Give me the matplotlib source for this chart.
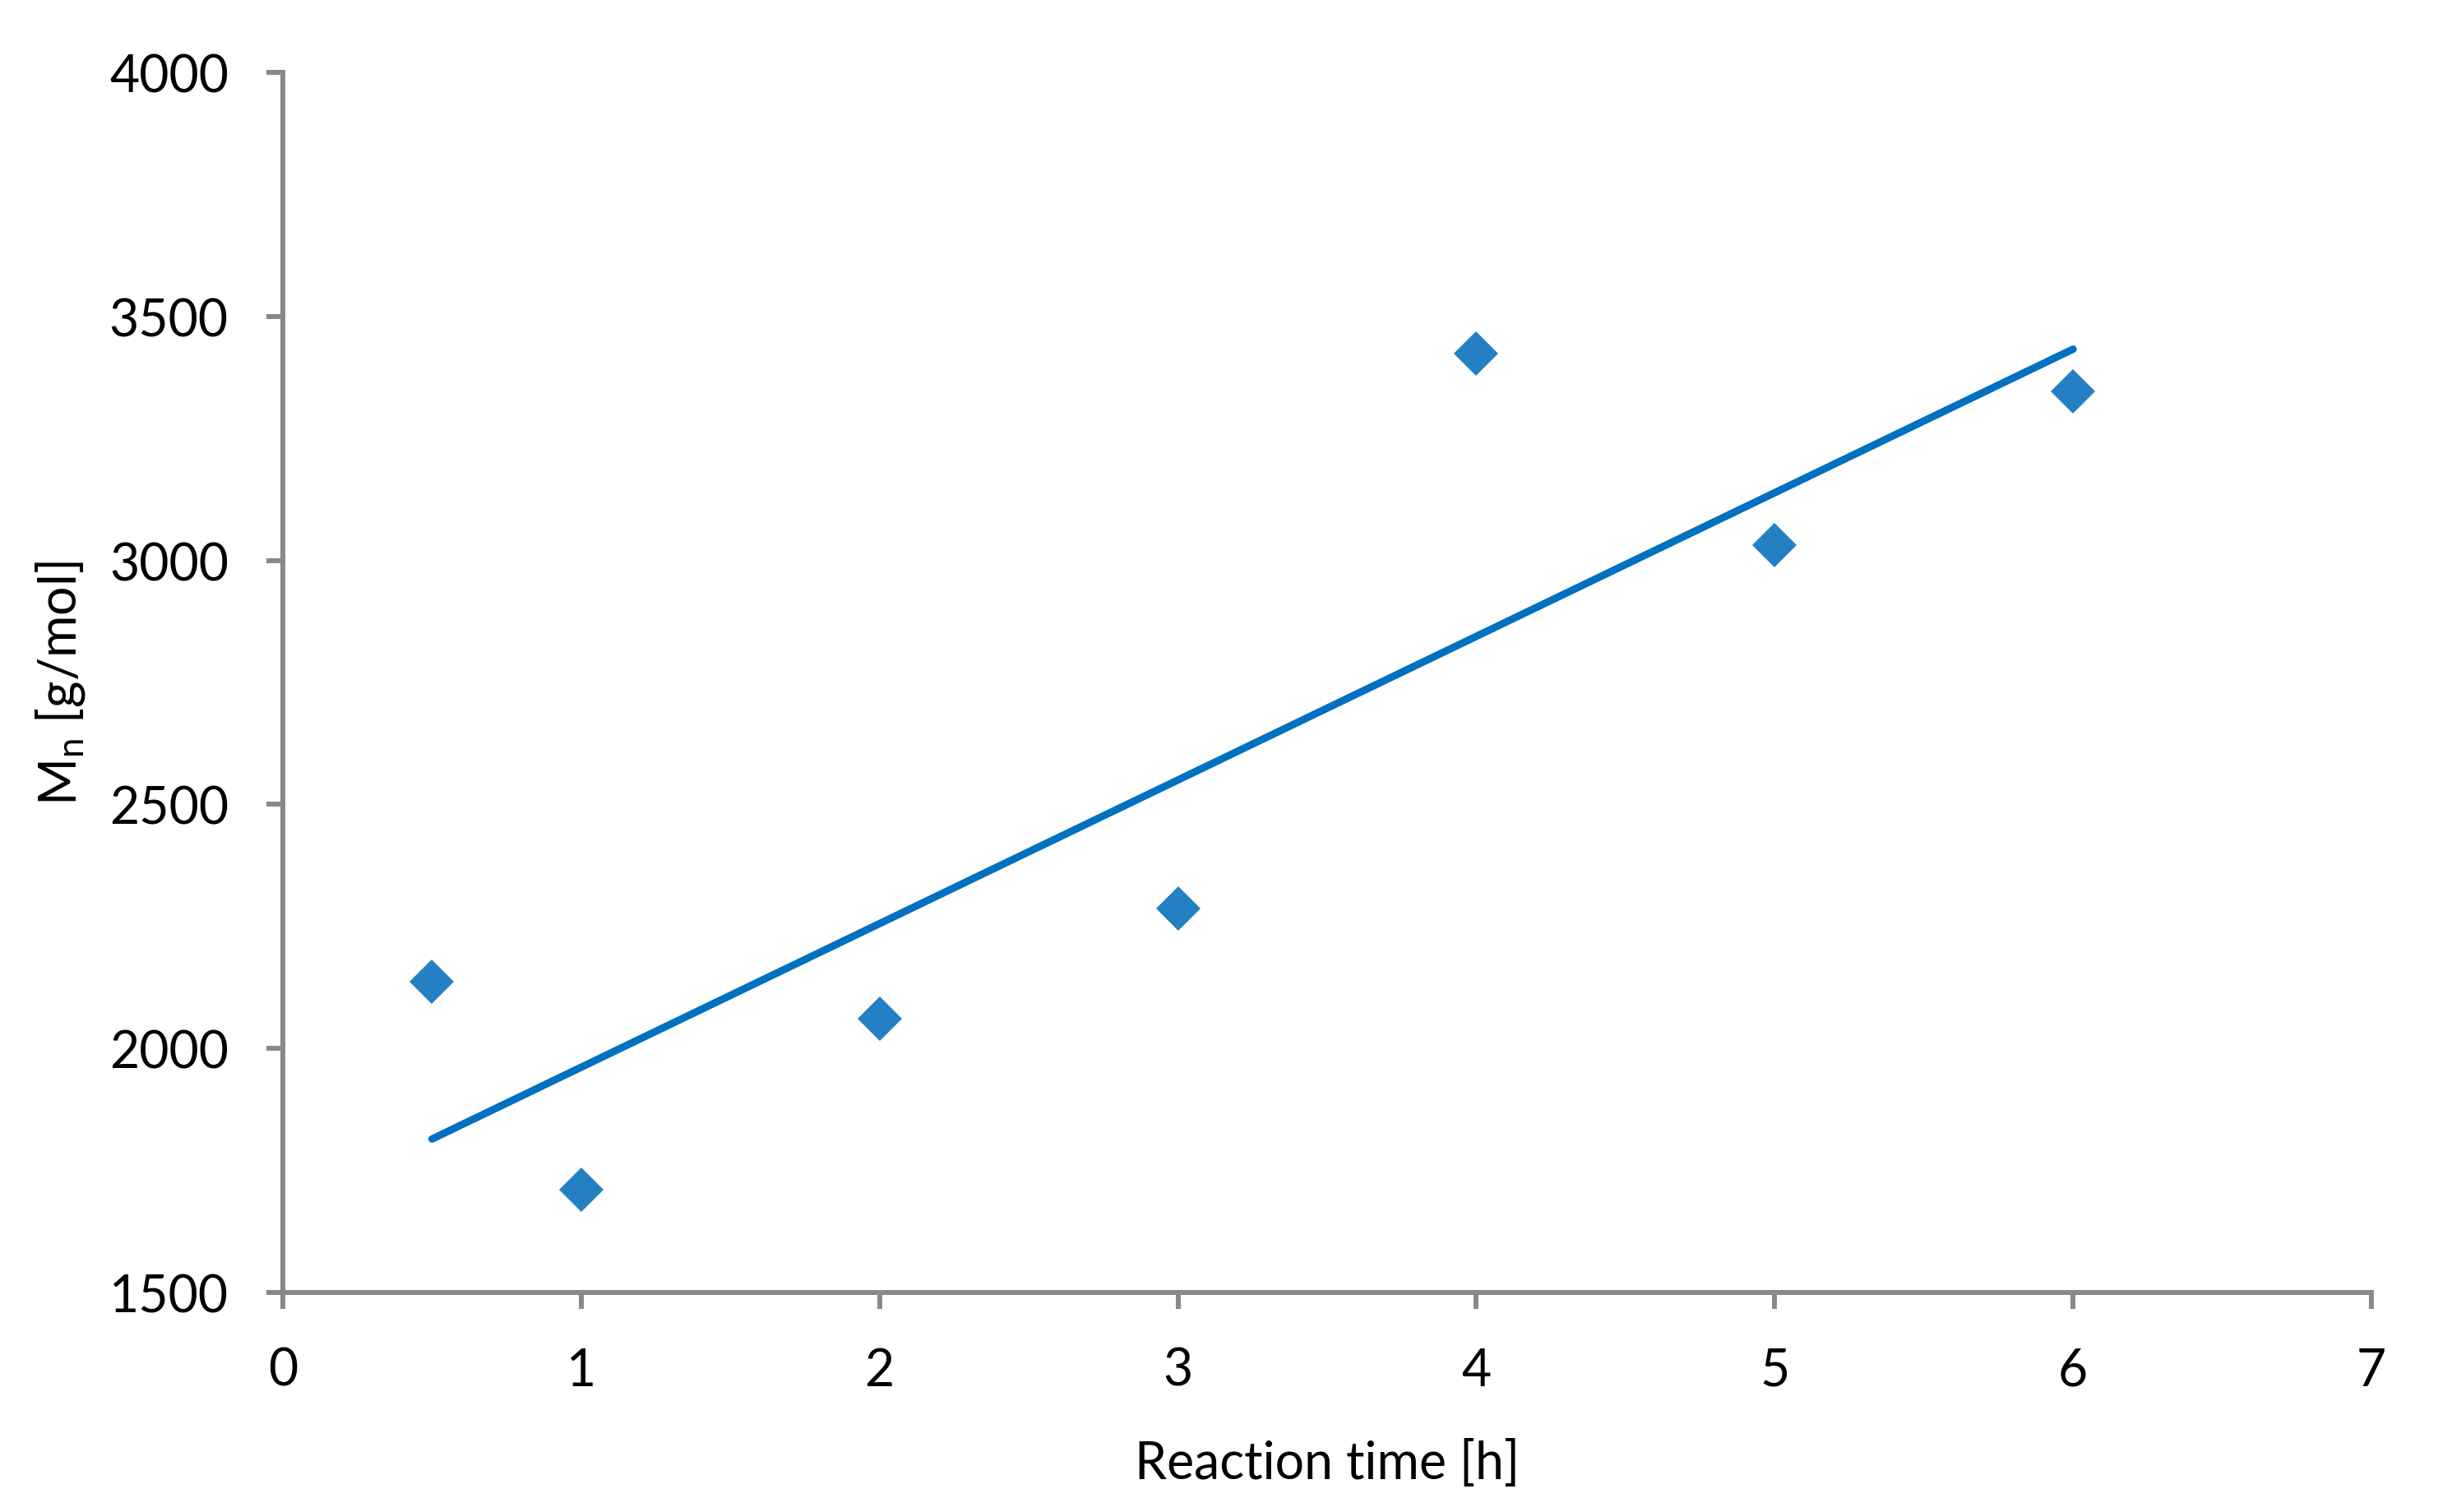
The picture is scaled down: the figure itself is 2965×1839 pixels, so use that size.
import numpy as np
import matplotlib
matplotlib.use("Agg")
import matplotlib.pyplot as plt

# Data
reaction_time = [0.5, 1, 2, 3, 4, 5, 6]
mn_values = [2137, 1710, 2061, 2287, 3424, 3032, 3347]

x_ticks = [0, 1, 2, 3, 4, 5, 6, 7]
y_ticks = [1500, 2000, 2500, 3000, 3500, 4000]

plt.rcParams["font.family"] = ["Lato", "DejaVu Sans"]
plt.rcParams["mathtext.default"] = "regular"

fig = plt.figure(figsize=(29.65, 18.4), dpi=100)
ax = fig.add_axes([0.116, 0.1451, 0.8567, 0.8065])

# linear trendline
coef = np.polyfit(reaction_time, mn_values, 1)
xs = np.array([min(reaction_time), max(reaction_time)])
ax.plot(xs, np.polyval(coef, xs), color="#0070C0", linewidth=6.5,
        solid_capstyle="round", zorder=2)

ax.plot(reaction_time, mn_values, linestyle="none", marker="D",
        markersize=28, markeredgewidth=0, color="#2580C3", zorder=3)

ax.set_xlim(0, 7)
ax.set_ylim(1500, 4000)
ax.set_xticks(x_ticks)
ax.set_yticks(y_ticks)

for side in ["top", "right"]:
    ax.spines[side].set_visible(False)
for side in ["left", "bottom"]:
    ax.spines[side].set_color("#898989")
    ax.spines[side].set_linewidth(4.3)

ax.tick_params(axis="both", direction="out", length=14.5, width=4.3,
               color="#898989", labelsize=45, pad=33, labelcolor="black")

ax.set_xlabel("Reaction time [h]", fontsize=45, labelpad=39)
ax.set_ylabel("M$_{n}$ [g/mol]", fontsize=45, labelpad=19)

plt.savefig("out.png", dpi=100)
plt.close()
